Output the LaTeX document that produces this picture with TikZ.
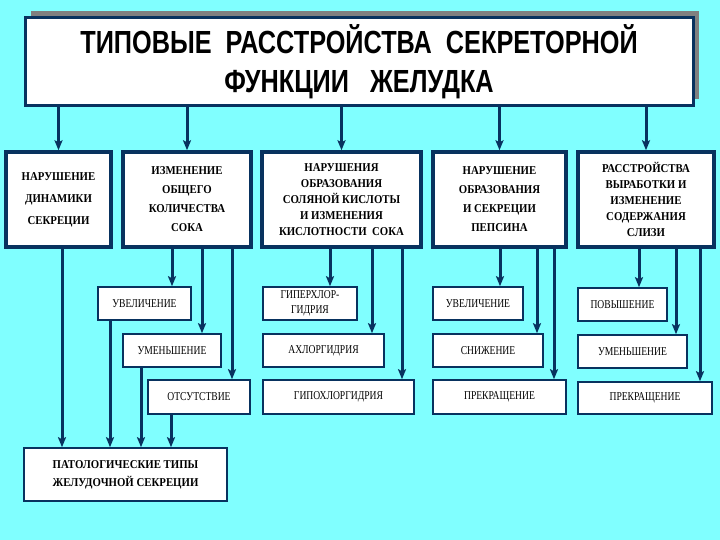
\documentclass[tikz,border=0pt]{standalone}
\usepackage{fontspec}
\setmainfont{Liberation Serif}
\newfontfamily\titlefont[FakeStretch=0.79]{Liberation Sans}
\newfontfamily\boxfont[FakeStretch=0.9]{Liberation Serif}
\newfontfamily\subfont[FakeStretch=0.8]{Liberation Serif}
\usetikzlibrary{arrows.meta, positioning, shadows}
\definecolor{bgcyan}{RGB}{128,255,255}
\definecolor{linenavy}{RGB}{8,50,95}
\definecolor{shadowgray}{RGB}{128,128,128}
\tikzset{
  arr/.style={-{Stealth[length=10pt,width=8pt,inset=2pt]},line width=3pt,draw=linenavy},
  topbox/.style={draw=linenavy,line width=3.5pt,fill=white,inner sep=0pt,minimum height=95pt,align=center,
    font=\boxfont\bfseries\fontsize{12}{#1}\selectfont},
  subbox/.style={draw=linenavy,line width=1.6pt,fill=white,inner sep=0pt,minimum height=33pt,align=center,
    font=\subfont\fontsize{12}{14}\selectfont},
}
\begin{document}
\begin{tikzpicture}[x=1pt,y=-1pt]
            \fill[bgcyan] (0,0) rectangle (720,540); %背景
            \useasboundingbox (0,0) rectangle (720,540);
            \node[draw=linenavy,line width=3pt,fill=white,minimum width=668pt,minimum height=88pt,align=center,
                  general shadow={fill=shadowgray,shadow xshift=6pt,shadow yshift=7pt},
                  font=\titlefont\bfseries\fontsize{32}{39}\selectfont]
                  (title) at (359,62) {ТИПОВЫЕ\ \ РАССТРОЙСТВА\ \ СЕКРЕТОРНОЙ\\ФУНКЦИИ\ \ \ ЖЕЛУДКА}; %表題
            \node[topbox=22,minimum width=105pt] (t1) at (58.5,199.5) {НАРУШЕНИЕ\\ДИНАМИКИ\\СЕКРЕЦИИ};
            \node[topbox=19,minimum width=128pt] (t2) at (187,199.5) {ИЗМЕНЕНИЕ\\ОБЩЕГО\\КОЛИЧЕСТВА\\СОКА};
            \node[topbox=16,minimum width=159pt] (t3) at (341.5,199.5) {НАРУШЕНИЯ\\ОБРАЗОВАНИЯ\\СОЛЯНОЙ КИСЛОТЫ\\И ИЗМЕНЕНИЯ\\КИСЛОТНОСТИ\ \ СОКА};
            \node[topbox=19,minimum width=133pt] (t4) at (499.5,199.5) {НАРУШЕНИЕ\\ОБРАЗОВАНИЯ\\И СЕКРЕЦИИ\\ПЕПСИНА};
            \node[topbox=16,minimum width=136pt] (t5) at (646,199.5) {РАССТРОЙСТВА\\ВЫРАБОТКИ И\\ИЗМЕНЕНИЕ\\СОДЕРЖАНИЯ\\СЛИЗИ};
            \foreach \t in {t1,t2,t3,t4,t5}
              \draw[arr] (title.south -| \t.north) -- (\t.north); %表題から
            % 下の箱
            \node[subbox,minimum width=93pt] (s21) at (144.5,303.5) {УВЕЛИЧЕНИЕ};
            \node[subbox,minimum width=98pt] (s22) at (172,350.5) {УМЕНЬШЕНИЕ};
            \node[subbox,minimum width=102pt,minimum height=34pt] (s23) at (199,397) {ОТСУТСТВИЕ};
            \node[subbox,minimum width=94pt,font=\subfont\fontsize{12}{15}\selectfont] (s31) at (310,303.5) {ГИПЕРХЛОР-\\ГИДРИЯ};
            \node[subbox,minimum width=121pt] (s32) at (323.5,350.5) {АХЛОРГИДРИЯ};
            \node[subbox,minimum width=151pt,minimum height=34pt] (s33) at (338.5,397) {ГИПОХЛОРГИДРИЯ};
            \node[subbox,minimum width=90pt] (s41) at (478,303.5) {УВЕЛИЧЕНИЕ};
            \node[subbox,minimum width=110pt] (s42) at (488,350.5) {СНИЖЕНИЕ};
            \node[subbox,minimum width=133pt,minimum height=34pt] (s43) at (499.5,397) {ПРЕКРАЩЕНИЕ};
            \node[subbox,minimum width=89pt] (s51) at (622.5,304.5) {ПОВЫШЕНИЕ};
            \node[subbox,minimum width=109pt] (s52) at (632.5,351.5) {УМЕНЬШЕНИЕ};
            \node[subbox,minimum width=134pt,minimum height=32pt] (s53) at (645,398) {ПРЕКРАЩЕНИЕ};
            \node[subbox,minimum width=203pt,minimum height=53pt,font=\boxfont\bfseries\fontsize{12}{18}\selectfont]
                  (bot) at (125.5,474.5) {ПАТОЛОГИЧЕСКИЕ ТИПЫ\\ЖЕЛУДОЧНОЙ СЕКРЕЦИИ};
            \foreach \s/\x in {s21/172,s22/202,s23/232}
              \draw[arr] (t2.south -| \x,0) -- (\s.north -| \x,0);
            \foreach \s/\x in {s31/330,s32/372,s33/402}
              \draw[arr] (t3.south -| \x,0) -- (\s.north -| \x,0);
            \foreach \s/\x in {s41/500,s42/537,s43/554}
              \draw[arr] (t4.south -| \x,0) -- (\s.north -| \x,0);
            \foreach \s/\x in {s51/639,s52/676,s53/700}
              \draw[arr] (t5.south -| \x,0) -- (\s.north -| \x,0);
            \foreach \s/\x in {t1/62,s21/110,s22/141,s23/171}
              \draw[arr] (\s.south -| \x,0) -- (bot.north -| \x,0); %下の箱へ
        \end{tikzpicture}
\end{document}
